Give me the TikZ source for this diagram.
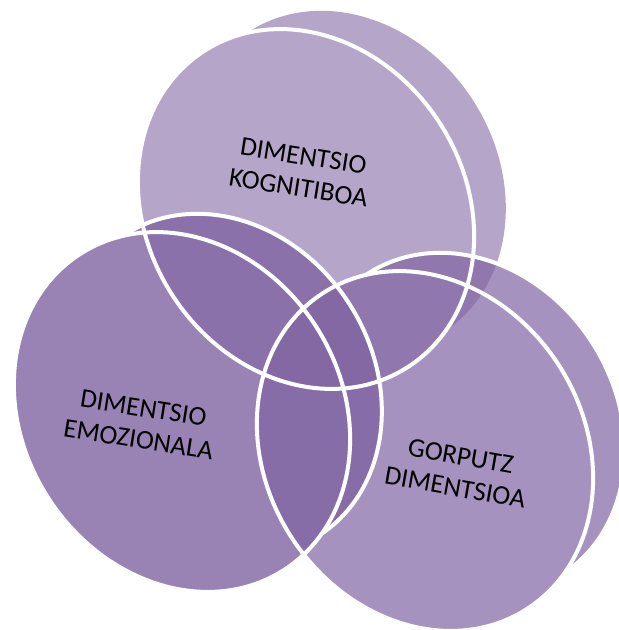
\documentclass[tikz,border=0pt]{standalone}
\usepackage{fontspec}
\setmainfont{Carlito}
\definecolor{DiscClr}{RGB}{128,100,162}
\tikzset{
  frontface/.style={x radius=188pt,y radius=159pt,rotate=-57},
  backface/.style={x radius=179pt,y radius=151pt,rotate=-57},
  ring/.style={draw=white,line width=4pt},
  dimlabel/.style={align=center,text=black,font=\fontsize{27}{32}\selectfont}
}

\begin{document}
\begin{tikzpicture}[x=1pt,y=-1pt]
\useasboundingbox (0,0) rectangle (619,630);
\clip (0,0) rectangle (619,630);

\coordinate (K) at (306,209);
\coordinate (Kb) at (346,182);
\coordinate (E) at (182,412);
\coordinate (Eb) at (222,385);
\coordinate (G) at (425,451);
\coordinate (Gb) at (465,424);

% front and back face of each disc in one path
\fill[DiscClr,fill opacity=0.58] (K) ellipse[frontface] (Kb) ellipse[backface];
\fill[DiscClr,fill opacity=0.80] (E) ellipse[frontface] (Eb) ellipse[backface];
\fill[DiscClr,fill opacity=0.70] (G) ellipse[frontface] (Gb) ellipse[backface];

% back rims, only outside the front face
\foreach \disc in {E,G}{
  \begin{scope}[even odd rule]
    \clip (0,0) rectangle (619,630) (\disc) ellipse[frontface];
    \draw[ring] (\disc b) ellipse[backface];
  \end{scope}
}
\draw[ring] (K) ellipse[frontface] (E) ellipse[frontface] (G) ellipse[frontface];

\node[dimlabel,rotate=-9] (kogn) at (301,172) {DIMENTSIO\\KOGNITIBOA};
\node[dimlabel,rotate=-9] (emoz) at (141,424) {DIMENTSIO\\EMOZIONALA};
\node[dimlabel,rotate=-10] (gorp) at (458,472) {GORPUTZ\\DIMENTSIOA};
\end{tikzpicture}
\end{document}
